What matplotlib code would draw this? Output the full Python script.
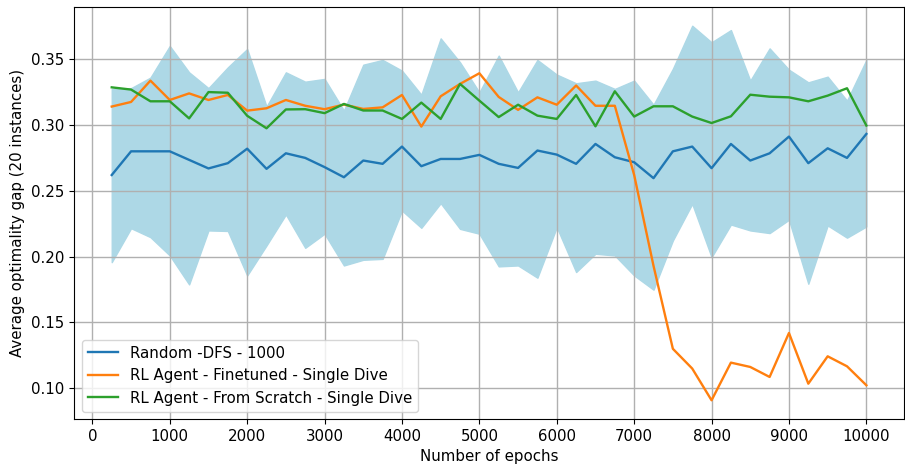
import numpy as np
import matplotlib
matplotlib.use('Agg')
from matplotlib import pyplot as plt

epochs = np.arange(250, 10001, 250)

random_dfs = [0.262, 0.280, 0.280, 0.280, 0.2735, 0.267, 0.271, 0.282, 0.2667, 0.2785,
              0.275, 0.268, 0.2603, 0.273, 0.2705, 0.2836, 0.2687, 0.2742, 0.2742, 0.2773,
              0.2705, 0.2674, 0.2806, 0.2775, 0.2705, 0.2856, 0.2755, 0.2717, 0.2596, 0.280,
              0.2836, 0.2672, 0.2856, 0.273, 0.2785, 0.2912, 0.271, 0.2823, 0.275, 0.2932]

finetuned = [0.314, 0.3175, 0.3337, 0.319, 0.324, 0.319, 0.3228, 0.3109, 0.3127, 0.319,
             0.3146, 0.312, 0.3155, 0.3122, 0.3134, 0.3228, 0.2988, 0.3218, 0.3312, 0.3393,
             0.3213, 0.3115, 0.321, 0.3154, 0.330, 0.3146, 0.3146, 0.262, 0.193, 0.130,
             0.115, 0.0909, 0.1195, 0.1162, 0.1086, 0.142, 0.1035, 0.1243, 0.1167, 0.1023]

scratch = [0.3286, 0.3269, 0.318, 0.318, 0.305, 0.325, 0.3245, 0.307, 0.2975, 0.3118,
           0.312, 0.309, 0.316, 0.311, 0.311, 0.3046, 0.317, 0.3046, 0.3312, 0.3185,
           0.306, 0.3154, 0.3071, 0.3046, 0.3228, 0.299, 0.3256, 0.3064, 0.3142, 0.3142,
           0.3064, 0.3015, 0.3066, 0.323, 0.3215, 0.321, 0.318, 0.3223, 0.3279, 0.2996]

# band around the Random-DFS runs
band_hi = [0.3274, 0.328, 0.336, 0.360, 0.340, 0.328, 0.3438, 0.3577, 0.314, 0.340,
           0.3329, 0.335, 0.311, 0.3458, 0.3494, 0.3413, 0.323, 0.3658, 0.3476, 0.3248,
           0.3527, 0.3248, 0.3494, 0.3383, 0.3317, 0.3337, 0.3274, 0.3337, 0.3154, 0.3427,
           0.3754, 0.3628, 0.3721, 0.3337, 0.3582, 0.342, 0.3324, 0.3367, 0.3185, 0.3494]

band_lo = [0.1958, 0.2216, 0.2148, 0.2009, 0.1789, 0.2199, 0.2195, 0.1857, 0.2085, 0.232,
           0.2067, 0.2174, 0.1933, 0.1976, 0.1983, 0.235, 0.2219, 0.2406, 0.2211, 0.2174,
           0.1926, 0.1933, 0.184, 0.2224, 0.1883, 0.2022, 0.2009, 0.1857, 0.1749, 0.2123,
           0.2401, 0.1996, 0.2244, 0.2199, 0.2179, 0.228, 0.1794, 0.2237, 0.2144, 0.2229]

plt.rcParams['font.size'] = 10.8

fig = plt.figure(figsize=(9.05, 4.68), dpi=100)
ax = fig.add_axes([74/905, 1 - 419/468, 831/905 - 0.001, 412/468])

ax.fill_between(epochs, band_lo, band_hi, color='lightblue')
ax.plot(epochs, random_dfs, color='tab:blue', lw=1.7, label='Random -DFS - 1000')
ax.plot(epochs, finetuned, color='tab:orange', lw=1.7, label='RL Agent - Finetuned - Single Dive')
ax.plot(epochs, scratch, color='tab:green', lw=1.7, label='RL Agent - From Scratch - Single Dive')

ax.set_xticks(np.arange(0, 10001, 1000))
ax.set_yticks([0.10, 0.15, 0.20, 0.25, 0.30, 0.35])
ax.grid(True, color='#b0b0b0', lw=1.0)
ax.set_xlabel('Number of epochs')
ax.set_ylabel('Average optimality gap (20 instances)')
ax.legend(loc='lower left')

plt.savefig('out.png', dpi=100)
